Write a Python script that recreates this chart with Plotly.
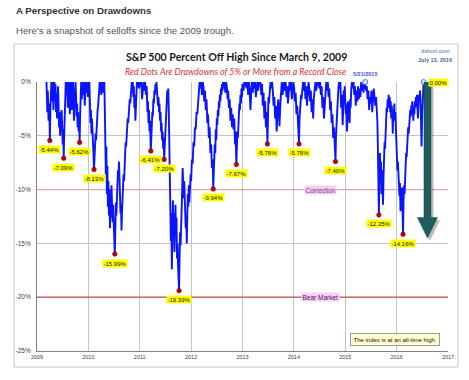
import plotly.graph_objects as go

# ---------------- data ----------------
line_years = [
    2009.185, 2009.20, 2009.21, 2009.225, 2009.24, 2009.25, 2009.26, 2009.27, 2009.28, 2009.29,
    2009.30, 2009.31, 2009.32, 2009.33, 2009.34, 2009.35, 2009.36, 2009.37, 2009.38, 2009.39,
    2009.40, 2009.41, 2009.42, 2009.43, 2009.44, 2009.45, 2009.46, 2009.47, 2009.48, 2009.49,
    2009.50, 2009.51, 2009.52, 2009.53, 2009.54, 2009.55, 2009.56, 2009.57, 2009.58, 2009.59,
    2009.60, 2009.61, 2009.62, 2009.63, 2009.64, 2009.65, 2009.66, 2009.67, 2009.68, 2009.69,
    2009.70, 2009.71, 2009.72, 2009.73, 2009.74, 2009.75, 2009.76, 2009.77, 2009.78, 2009.79,
    2009.80, 2009.81, 2009.82, 2009.83, 2009.84, 2009.85, 2009.86, 2009.87, 2009.88, 2009.89,
    2009.90, 2009.91, 2009.92, 2009.93, 2009.94, 2009.95, 2009.96, 2009.97, 2009.98, 2009.99,
    2010.00, 2010.01, 2010.02, 2010.03, 2010.04, 2010.05, 2010.06, 2010.07, 2010.08, 2010.09,
    2010.10, 2010.11, 2010.12, 2010.13, 2010.14, 2010.15, 2010.16, 2010.17, 2010.18, 2010.19,
    2010.20, 2010.21, 2010.22, 2010.23, 2010.24, 2010.25, 2010.26, 2010.27, 2010.28, 2010.29,
    2010.30, 2010.31, 2010.32, 2010.33, 2010.34, 2010.35, 2010.36, 2010.37, 2010.38, 2010.39,
    2010.40, 2010.41, 2010.42, 2010.43, 2010.44, 2010.45, 2010.46, 2010.47, 2010.48, 2010.49,
    2010.50, 2010.515, 2010.525, 2010.535, 2010.545, 2010.555, 2010.565, 2010.575, 2010.585, 2010.595,
    2010.605, 2010.615, 2010.625, 2010.635, 2010.645, 2010.655, 2010.665, 2010.675, 2010.685, 2010.695,
    2010.705, 2010.715, 2010.725, 2010.735, 2010.745, 2010.755, 2010.765, 2010.775, 2010.785, 2010.795,
    2010.805, 2010.815, 2010.825, 2010.835, 2010.845, 2010.855, 2010.865, 2010.875, 2010.885, 2010.895,
    2010.905, 2010.915, 2010.925, 2010.935, 2010.945, 2010.955, 2010.97, 2010.985, 2011.00, 2011.015,
    2011.03, 2011.045, 2011.06, 2011.075, 2011.09, 2011.105, 2011.12, 2011.135, 2011.15, 2011.16,
    2011.17, 2011.18, 2011.19, 2011.20, 2011.215, 2011.225, 2011.235, 2011.245, 2011.255, 2011.265,
    2011.275, 2011.285, 2011.295, 2011.305, 2011.315, 2011.325, 2011.335, 2011.345, 2011.355, 2011.365,
    2011.375, 2011.385, 2011.395, 2011.405, 2011.415, 2011.425, 2011.435, 2011.445, 2011.455, 2011.465,
    2011.475, 2011.485, 2011.495, 2011.505, 2011.515, 2011.525, 2011.535, 2011.545, 2011.555, 2011.565,
    2011.575, 2011.585, 2011.595, 2011.605, 2011.615, 2011.625, 2011.635, 2011.645, 2011.655, 2011.665,
    2011.675, 2011.685, 2011.695, 2011.705, 2011.715, 2011.725, 2011.735, 2011.745, 2011.765, 2011.775,
    2011.785, 2011.795, 2011.805, 2011.815, 2011.825, 2011.835, 2011.845, 2011.855, 2011.865, 2011.875,
    2011.885, 2011.895, 2011.905, 2011.915, 2011.925, 2011.935, 2011.945, 2011.955, 2011.965, 2011.975,
    2011.99, 2012.00, 2012.015, 2012.03, 2012.045, 2012.06, 2012.075, 2012.09, 2012.105, 2012.12,
    2012.135, 2012.15, 2012.165, 2012.18, 2012.195, 2012.21, 2012.225, 2012.24, 2012.255, 2012.27,
    2012.285, 2012.30, 2012.315, 2012.33, 2012.345, 2012.36, 2012.375, 2012.39, 2012.405, 2012.42,
    2012.43, 2012.44, 2012.45, 2012.46, 2012.47, 2012.48, 2012.49, 2012.50, 2012.51, 2012.52,
    2012.53, 2012.54, 2012.55, 2012.56, 2012.57, 2012.58, 2012.59, 2012.60, 2012.61, 2012.62,
    2012.635, 2012.65, 2012.665, 2012.68, 2012.695, 2012.71, 2012.72, 2012.735, 2012.75, 2012.765,
    2012.78, 2012.795, 2012.81, 2012.825, 2012.84, 2012.855, 2012.865, 2012.88, 2012.89, 2012.90,
    2012.91, 2012.92, 2012.93, 2012.94, 2012.95, 2012.96, 2012.97, 2012.98, 2012.99, 2013.00,
    2013.02, 2013.035, 2013.05, 2013.065, 2013.08, 2013.095, 2013.11, 2013.125, 2013.14, 2013.155,
    2013.17, 2013.185, 2013.20, 2013.215, 2013.23, 2013.245, 2013.26, 2013.275, 2013.29, 2013.305,
    2013.32, 2013.335, 2013.35, 2013.365, 2013.38, 2013.395, 2013.41, 2013.425, 2013.44, 2013.455,
    2013.47, 2013.485, 2013.495, 2013.505, 2013.515, 2013.53, 2013.545, 2013.56, 2013.575, 2013.59,
    2013.605, 2013.62, 2013.635, 2013.65, 2013.665, 2013.68, 2013.695, 2013.71, 2013.72, 2013.735,
    2013.75, 2013.765, 2013.78, 2013.795, 2013.81, 2013.825, 2013.84, 2013.855, 2013.87, 2013.885,
    2013.90, 2013.915, 2013.93, 2013.945, 2013.96, 2013.975, 2013.99, 2014.005, 2014.02, 2014.035,
    2014.05, 2014.065, 2014.08, 2014.09, 2014.10, 2014.11, 2014.12, 2014.13, 2014.14, 2014.15,
    2014.165, 2014.18, 2014.195, 2014.21, 2014.225, 2014.24, 2014.255, 2014.27, 2014.285, 2014.30,
    2014.315, 2014.33, 2014.345, 2014.36, 2014.375, 2014.39, 2014.405, 2014.42, 2014.435, 2014.45,
    2014.465, 2014.48, 2014.495, 2014.51, 2014.525, 2014.54, 2014.555, 2014.57, 2014.585, 2014.60,
    2014.615, 2014.63, 2014.645, 2014.66, 2014.675, 2014.69, 2014.705, 2014.72, 2014.735, 2014.75,
    2014.765, 2014.78, 2014.795, 2014.81, 2014.82, 2014.83, 2014.84, 2014.85, 2014.86, 2014.87,
    2014.88, 2014.89, 2014.905, 2014.92, 2014.935, 2014.95, 2014.96, 2014.97, 2014.98, 2014.99,
    2015.00, 2015.01, 2015.02, 2015.035, 2015.045, 2015.055, 2015.065, 2015.075, 2015.085, 2015.095,
    2015.105, 2015.115, 2015.13, 2015.145, 2015.16, 2015.175, 2015.19, 2015.205, 2015.22, 2015.235,
    2015.25, 2015.265, 2015.28, 2015.295, 2015.31, 2015.325, 2015.34, 2015.355, 2015.37, 2015.39,
    2015.405, 2015.42, 2015.435, 2015.45, 2015.465, 2015.48, 2015.495, 2015.51, 2015.525, 2015.54,
    2015.555, 2015.57, 2015.585, 2015.60, 2015.615, 2015.625, 2015.635, 2015.645, 2015.655, 2015.665,
    2015.675, 2015.685, 2015.695, 2015.705, 2015.715, 2015.725, 2015.735, 2015.745, 2015.755, 2015.765,
    2015.775, 2015.785, 2015.795, 2015.805, 2015.815, 2015.825, 2015.835, 2015.845, 2015.855, 2015.865,
    2015.875, 2015.885, 2015.895, 2015.905, 2015.915, 2015.925, 2015.935, 2015.945, 2015.955, 2015.965,
    2015.975, 2015.985, 2015.995, 2016.005, 2016.015, 2016.025, 2016.035, 2016.045, 2016.055, 2016.065,
    2016.075, 2016.085, 2016.095, 2016.105, 2016.115, 2016.125, 2016.135, 2016.145, 2016.155, 2016.165,
    2016.175, 2016.185, 2016.195, 2016.205, 2016.215, 2016.225, 2016.235, 2016.245, 2016.255, 2016.265,
    2016.275, 2016.285, 2016.295, 2016.305, 2016.315, 2016.325, 2016.335, 2016.345, 2016.355, 2016.365,
    2016.375, 2016.385, 2016.395, 2016.405, 2016.415, 2016.425, 2016.435, 2016.445, 2016.455, 2016.465,
    2016.475, 2016.485, 2016.495, 2016.505, 2016.515, 2016.525,
]

line_pct = [
    0, -2.8, -0.8, -3.6, -2.0, -5.44, -2.5, -0.5, 0, -1.8,
    -0.4, 0, -2.6, -0.8, 0, -1.5, -0.2, -2.8, -1.0, -3.4,
    -1.6, -0.4, -2.2, -4.2, -2.8, -5.0, -3.4, -4.6, -2.6, -4.0,
    -5.8, -4.4, -7.09, -4.8, -2.4, -0.8, 0, -1.2, 0, -0.6,
    -2.4, -0.8, 0, -1.4, -3.0, -1.2, 0, -0.8, -2.6, -1.0,
    0, -1.6, -3.6, -1.8, -0.4, 0, -1.4, -3.2, -2.0, -4.2,
    -2.8, -4.6, -3.4, -5.62, -3.0, -1.0, 0, -1.6, -0.4, 0,
    -1.2, 0, -0.8, -2.2, -0.6, 0, -1.0, 0, -0.6, -1.4,
    0, -0.8, 0, -2.2, -3.8, -2.6, -4.8, -3.4, -5.6, -4.6,
    -6.8, -8.13, -6.0, -6.8, -4.8, -5.4, -3.6, -4.0, -2.6, -2.2,
    -1.4, -0.6, 0, -0.8, 0, -1.2, -0.2, 0, -1.0, 0,
    -0.6, 0, -2.5, -5.0, -8.6, -6.0, -10.4, -7.8, -11.6, -9.2,
    -12.4, -10.0, -13.6, -10.8, -12.6, -9.6, -11.2, -13.0, -11.4, -12.8,
    -14.6, -15.99, -13.6, -11.2, -12.4, -9.8, -10.6, -8.2, -9.0, -7.4,
    -8.8, -10.8, -12.2, -11.4, -13.8, -12.0, -10.2, -10.8, -8.6, -9.2,
    -7.0, -7.6, -5.6, -6.0, -4.4, -4.8, -3.4, -3.8, -2.4, -2.8,
    -1.6, -2.0, -0.8, -1.0, 0, -0.6, 0, -1.4, -0.4, -2.4,
    -1.2, -3.6, -1.8, -0.6, 0, -0.4, 0, -0.6, 0, -0.4,
    0, -1.6, -0.4, 0, -0.8, 0, -1.2, -0.4, -2.8, -1.8,
    -3.8, -2.6, -4.6, -3.6, -6.41, -4.2, -4.8, -2.8, -3.2, -1.6,
    -2.0, -0.8, -1.2, -0.2, -0.6, 0, -1.2, -0.8, -2.2, -1.4,
    -2.8, -2.0, -3.6, -2.8, -4.6, -3.8, -5.4, -4.6, -6.2, -5.2,
    -7.20, -5.8, -4.6, -3.2, -2.4, -1.6, -0.8, -1.4, -0.6, -2.6,
    -4.8, -7.8, -11.6, -14.8, -12.2, -17.4, -13.0, -11.0, -14.4, -12.2,
    -15.8, -13.0, -11.4, -14.2, -12.6, -16.4, -15.0, -17.0, -19.39, -16.4,
    -14.0, -15.2, -12.2, -12.8, -10.2, -8.0, -9.4, -10.8, -9.2, -12.0,
    -11.0, -13.6, -12.4, -15.0, -12.4, -10.4, -11.6, -9.6, -11.2, -10.0,
    -8.6, -9.2, -7.2, -7.6, -5.6, -6.0, -4.2, -4.4, -2.8, -3.0,
    -1.4, -1.0, 0, -0.6, 0, -1.2, 0, -0.4, -1.8, -0.8,
    -2.6, -1.6, -3.8, -3.0, -5.2, -4.2, -6.6, -5.8, -8.0, -7.2,
    -9.94, -7.4, -8.2, -5.8, -6.6, -4.4, -5.4, -3.4, -4.0, -2.6,
    -3.2, -1.8, -2.4, -1.2, -1.8, -0.6, -1.2, -0.2, -0.8, 0,
    -0.6, 0, -1.0, 0, -0.4, -1.6, -0.8, -2.4, -1.6, -3.6,
    -2.4, -4.2, -3.0, -4.4, -3.4, -5.8, -4.6, -7.67, -5.4, -4.6,
    -5.2, -3.2, -3.8, -2.0, -2.6, -1.2, -2.0, -0.6, -1.4, -0.2,
    -0.8, 0, -0.4, 0, -0.6, 0, -1.2, 0, -0.8, -2.6,
    -0.8, 0, -1.0, 0, -0.6, 0, -1.4, -0.2, 0, -0.8,
    0, -0.4, 0, -1.2, -0.2, -2.2, -1.0, -3.4, -1.8, -4.2,
    -2.8, -5.76, -3.2, -1.4, -2.0, -0.4, 0, -0.6, 0, -0.8,
    -2.2, -1.4, -3.4, -2.2, -4.6, -3.0, -1.6, -2.6, -4.1, -2.2,
    -0.6, 0, -1.2, -0.2, 0, -0.8, 0, -1.4, -0.4, -2.0,
    -0.6, 0, -0.8, 0, -1.6, -0.4, 0, -0.6, -1.8, -1.0,
    -3.0, -2.2, -4.2, -3.6, -5.76, -3.4, -2.0, -2.6, -1.2, -1.6,
    -0.4, 0, -0.8, 0, -1.6, -0.4, -2.2, -0.8, 0, -0.6,
    -1.8, -0.8, -2.8, -1.6, -3.4, -1.4, -0.4, 0, -0.8, 0,
    -0.4, 0, -0.6, 0, -1.2, -0.4, -2.4, -1.4, -3.4, -1.8,
    -0.6, 0, -0.8, 0, -1.4, -0.6, -2.6, -1.8, -3.8, -3.0,
    -5.2, -4.2, -5.8, -7.40, -5.0, -3.6, -2.2, -2.8, -1.2, -0.4,
    0, -0.6, 0, -2.4, -1.2, -4.0, -2.4, -0.8, -1.6, -0.4,
    -1.8, -3.0, -2.0, -4.6, -2.8, -1.8, -3.6, -2.2, -3.8, -1.6,
    -2.4, -0.8, 0, -0.6, 0, -1.2, -0.4, -2.2, -0.8, -1.8,
    -0.4, -1.6, -0.6, -1.4, 0, -0.8, -0.2, -1.0, -0.2, 0,
    -0.8, -0.4, -1.6, -0.8, -2.6, -1.4, -2.0, -0.8, -2.8, -1.6,
    -0.6, -1.4, -2.2, -1.4, -2.8, -3.6, -6.0, -9.8, -12.35, -8.4,
    -6.6, -9.0, -7.4, -10.4, -8.2, -9.6, -11.4, -8.8, -7.0, -5.6,
    -6.2, -4.2, -3.6, -2.4, -2.8, -1.6, -2.2, -1.2, -2.4, -1.4,
    -2.8, -1.8, -3.4, -2.2, -3.0, -4.8, -2.6, -3.2, -2.0, -3.6,
    -2.8, -4.0, -5.4, -6.8, -8.2, -7.4, -9.2, -8.6, -10.6, -9.4,
    -12.0, -10.2, -11.4, -9.8, -12.4, -14.16, -11.0, -9.6, -10.4, -8.2,
    -8.8, -6.6, -7.0, -5.4, -5.8, -4.2, -4.8, -3.4, -4.0, -2.6,
    -3.2, -2.2, -3.0, -1.8, -2.6, -3.6, -2.4, -3.0, -1.8, -2.4,
    -1.4, -2.0, -1.2, -2.2, -3.4, -2.0, -1.2, -1.8, -0.8, -1.6,
    -4.2, -6.0, -3.4, -1.8, -0.8, 0,
]

dot_years = [2009.25, 2009.52, 2009.83, 2010.11, 2010.515, 2011.215, 2011.475, 2011.765,
             2012.43, 2012.88, 2013.485, 2014.10, 2014.81, 2015.655, 2016.125]
dot_pct = [-5.44, -7.09, -5.62, -8.13, -15.99, -6.41, -7.20, -19.39,
           -9.94, -7.67, -5.76, -5.76, -7.40, -12.35, -14.16]
dot_labels = ["-5.44%", "-7.09%", "-5.62%", "-8.13%", "-15.99%", "-6.41%", "-7.20%", "-19.39%",
              "-9.94%", "-7.67%", "-5.76%", "-5.76%", "-7.40%", "-12.35%", "-14.16%"]

high_years = [2015.39, 2016.525]
high_pct = [0, 0]

year_ticks = [2009, 2010, 2011, 2012, 2013, 2014, 2015, 2016, 2017]
year_labels = ["2009", "2010", "2011", "2012", "2013", "2014", "2015", "2016", "2017"]
pct_ticks = [0, -5, -10, -15, -20, -25]
pct_labels = ["0%", "-5%", "-10%", "-15%", "-20%", "-25%"]

threshold_pct = [-10, -20]
threshold_names = ["Correction", "Bear Market"]

# ---------------- layout geometry (window pixels) ----------------
W, H = 469, 380
L, R, T, B = 37, 448, 82, 351


def px(xp):
    return (xp - L) / (R - L)


def py(yp):
    return (B - yp) / (B - T)


fig = go.Figure()

fig.add_trace(go.Scatter(
    x=line_years, y=line_pct, mode="lines",
    line=dict(color="#0A14FF", width=1.9), hoverinfo="skip", showlegend=False))

fig.add_trace(go.Scatter(
    x=dot_years, y=dot_pct, mode="markers", cliponaxis=False,
    marker=dict(color="#C00000", size=4.5, line=dict(color="#7A0000", width=0.6)),
    showlegend=False))

fig.add_trace(go.Scatter(
    x=high_years, y=high_pct, mode="markers", cliponaxis=False,
    marker=dict(color="#DDE6FF", size=5, line=dict(color="#5A78E0", width=1)),
    showlegend=False))

shapes = []
# threshold lines
shapes.append(dict(type="line", xref="x", yref="y", x0=2009, x1=2017,
                   y0=threshold_pct[0], y1=threshold_pct[0],
                   line=dict(color="#E6A4A4", width=1.2), layer="between"))
shapes.append(dict(type="line", xref="x", yref="y", x0=2009, x1=2017,
                   y0=threshold_pct[1], y1=threshold_pct[1],
                   line=dict(color="#C85454", width=1.2), layer="between"))
# outer chart frame
shapes.append(dict(type="rect", xref="paper", yref="paper",
                   x0=px(14), x1=px(458), y0=py(367), y1=py(44),
                   line=dict(color="#C8C8C8", width=1), layer="below"))

# big arrow (decoration)
ax, hw, hh, top, base, tip = 2016.6, 0.068, 0.195, 0.0, -12.6, -14.5


def arrow_path(dx, dy):
    return (f"M {ax-hw+dx},{top+dy} L {ax+hw+dx},{top+dy} L {ax+hw+dx},{base+dy} "
            f"L {ax+hh+dx},{base+dy} L {ax+dx},{tip+dy} L {ax-hh+dx},{base+dy} "
            f"L {ax-hw+dx},{base+dy} Z")


shapes.append(dict(type="path", xref="x", yref="y", path=arrow_path(0.05, -0.25),
                   fillcolor="rgba(60,60,60,0.35)", line=dict(width=0), layer="above"))
shapes.append(dict(type="path", xref="x", yref="y", path=arrow_path(0, 0),
                   fillcolor="#1F5C5C", line=dict(color="#1A4F4F", width=0.5), layer="above"))

annotations = []
for xv, yv, t in zip(dot_years, dot_pct, dot_labels):
    annotations.append(dict(x=xv, y=yv, xref="x", yref="y", text=t, showarrow=False,
                            xanchor="center", yanchor="middle",
                            yshift=-9, bgcolor="#FFFF00", borderpad=0.5,
                            font=dict(family="Liberation Sans", size=6, color="#111111")))

annotations.append(dict(x=high_years[1], y=high_pct[1], xref="x", yref="y", text="0.00%",
                        showarrow=False, xanchor="left", yanchor="middle", xshift=4, bgcolor="#FFFF00",
                        borderpad=0.5, font=dict(family="Liberation Sans", size=6, color="#111111")))
annotations.append(dict(x=high_years[0], y=high_pct[0], xref="x", yref="y", text="<b>5/21/2015</b>",
                        showarrow=False, xanchor="center", yanchor="middle", yshift=8,
                        font=dict(family="Liberation Sans", size=5.5, color="#3355CC")))

for yv, name, bg, fc in zip(threshold_pct, threshold_names, ["#F6CDF2", "#FFCCFF"], ["#7A3A8E", "#3D1F3A"]):
    annotations.append(dict(x=2014.52, y=yv, xref="x", yref="y", text=name, showarrow=False,
                            xanchor="center", yanchor="middle",
                            bgcolor=bg, borderpad=0.5,
                            font=dict(family="Liberation Sans", size=6.5, color=fc)))

annotations.append(dict(x=px(395), y=py(339.5), xref="paper", yref="paper",
                        xanchor="center", yanchor="middle",
                        text="The index is at an all-time high.", showarrow=False,
                        bgcolor="#FFFFCC", bordercolor="#9A9A9A", borderwidth=1, borderpad=2.5,
                        font=dict(family="Liberation Sans", size=6, color="#111111")))

# headings
annotations.append(dict(x=px(14), y=py(10), xref="paper", yref="paper",
                        xanchor="left", yanchor="middle",
                        text="<b>A Perspective on Drawdowns</b>", showarrow=False,
                        font=dict(family="Liberation Sans", size=9.7, color="#333333")))
annotations.append(dict(x=px(14), y=py(30), xref="paper", yref="paper",
                        xanchor="left", yanchor="middle",
                        text="Here's a snapshot of selloffs since the 2009 trough.", showarrow=False,
                        font=dict(family="Liberation Sans", size=9.6, color="#555555")))
annotations.append(dict(x=px(236), y=py(57), xref="paper", yref="paper",
                        xanchor="center", yanchor="middle",
                        text="<b>S&amp;P 500 Percent Off High Since March 9, 2009</b>", showarrow=False,
                        font=dict(family="Lato", size=10.6, color="#1A1A1A")))
annotations.append(dict(x=px(235.5), y=py(71), xref="paper", yref="paper",
                        xanchor="center", yanchor="middle",
                        text="<i>Red Dots Are Drawdowns of 5% or More from a Record Close</i>",
                        showarrow=False, font=dict(family="Lato", size=8.8, color="#E03030")))
annotations.append(dict(x=px(435), y=py(51), xref="paper", yref="paper",
                        xanchor="center", yanchor="middle",
                        text="dshort.com", showarrow=False,
                        font=dict(family="Liberation Sans", size=5.8, color="#4A6A9A")))
annotations.append(dict(x=px(435), y=py(60), xref="paper", yref="paper",
                        xanchor="center", yanchor="middle",
                        text="<b>July 13, 2016</b>", showarrow=False,
                        font=dict(family="Liberation Sans", size=5.5, color="#4A6A9A")))

fig.update_layout(
    width=W, height=H, autosize=False,
    margin=dict(l=L, r=W - R, t=T, b=H - B, pad=0),
    paper_bgcolor="white", plot_bgcolor="white",
    shapes=shapes, annotations=annotations, showlegend=False,
    xaxis=dict(range=[2009, 2017], tickmode="array", tickvals=year_ticks, ticktext=year_labels,
               showgrid=True, gridcolor="#C4C4C4", gridwidth=1.3, zeroline=False,
               showline=True, linecolor="#808080", linewidth=1, ticks="",
               tickfont=dict(family="Liberation Sans", size=5.5, color="#404040")),
    yaxis=dict(range=[-25, 0], tickmode="array", tickvals=pct_ticks, ticktext=pct_labels,
               showgrid=True, gridcolor="#C4C4C4", gridwidth=1.3, zeroline=False,
               showline=True, linecolor="#808080", linewidth=1, ticks="",
               ticklabelstandoff=4,
               tickfont=dict(family="Liberation Sans", size=6.5, color="#404040")),
)

# remove the browser's default 8px page margin so the figure fills the window
fig.write_html("out.html", config={"displayModeBar": False},
               post_script="document.body.style.margin='0px';document.body.style.overflow='hidden';")
